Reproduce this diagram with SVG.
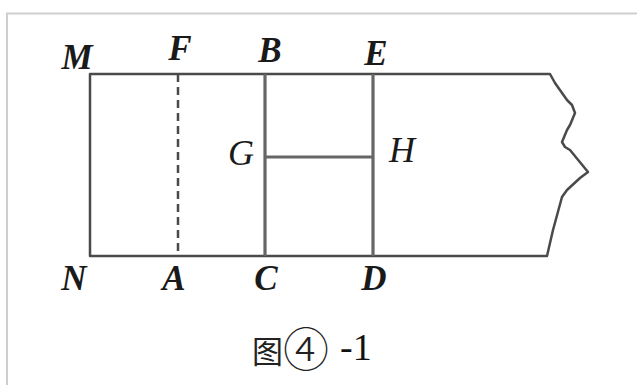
<svg xmlns="http://www.w3.org/2000/svg" width="637" height="385" viewBox="0 0 637 385">
<style>
.lbl{font-family:"Liberation Serif","Times New Roman",serif;font-style:italic;font-weight:bold;font-size:35px;fill:#1a1a1a;text-anchor:middle}
.thin{font-weight:normal;font-size:36px}
.edge{fill:none;stroke:#4a4a4a;stroke-width:2.5;stroke-linejoin:round}
.inner{stroke:#666;stroke-width:3.2}
.cap{font-size:31px;fill:#222}
</style>
<rect x="7" y="13.5" width="640" height="380" fill="#fff" stroke="#cfcfcf" stroke-width="2"/>
<g id="connectors">
<path class="edge" d="M550,74 L90,74 L90,256 L547,256 L553,230 L562,197 L567,190 L580,178 L588,172 L570,150 L565,147 L562,142 L567,130 L570,125 L575,113 L572,105 L567,100 L555,83 Z"/>
<line class="edge" x1="178" y1="74" x2="178" y2="256" stroke-dasharray="8 5"/>
<line class="inner" x1="265" y1="74" x2="265" y2="256"/>
<line class="inner" x1="373" y1="74" x2="373" y2="256"/>
<line class="inner" x1="265" y1="157" x2="373" y2="157"/>
</g>
<g id="M"><text class="lbl" x="77" y="69">M</text></g>
<g id="F"><text class="lbl" x="180" y="60">F</text></g>
<g id="B"><text class="lbl" x="270" y="62">B</text></g>
<g id="E"><text class="lbl" x="376" y="65">E</text></g>
<g id="N"><text class="lbl" x="74" y="290">N</text></g>
<g id="A"><text class="lbl" x="174" y="290">A</text></g>
<g id="C"><text class="lbl" x="266" y="290">C</text></g>
<g id="D"><text class="lbl" x="374" y="290">D</text></g>
<g id="G"><text class="lbl thin" x="241" y="165">G</text></g>
<g id="H"><text class="lbl thin" x="402" y="162">H</text></g>
<g id="caption">
<text x="252" y="363" class="cap" font-family="'Noto Sans CJK SC',sans-serif">图<tspan font-size="46" dy="3" font-weight="300">④</tspan></text>
<text x="340" y="360" font-family="'Liberation Serif',serif" font-size="38" fill="#111">-1</text>
</g>
</svg>
